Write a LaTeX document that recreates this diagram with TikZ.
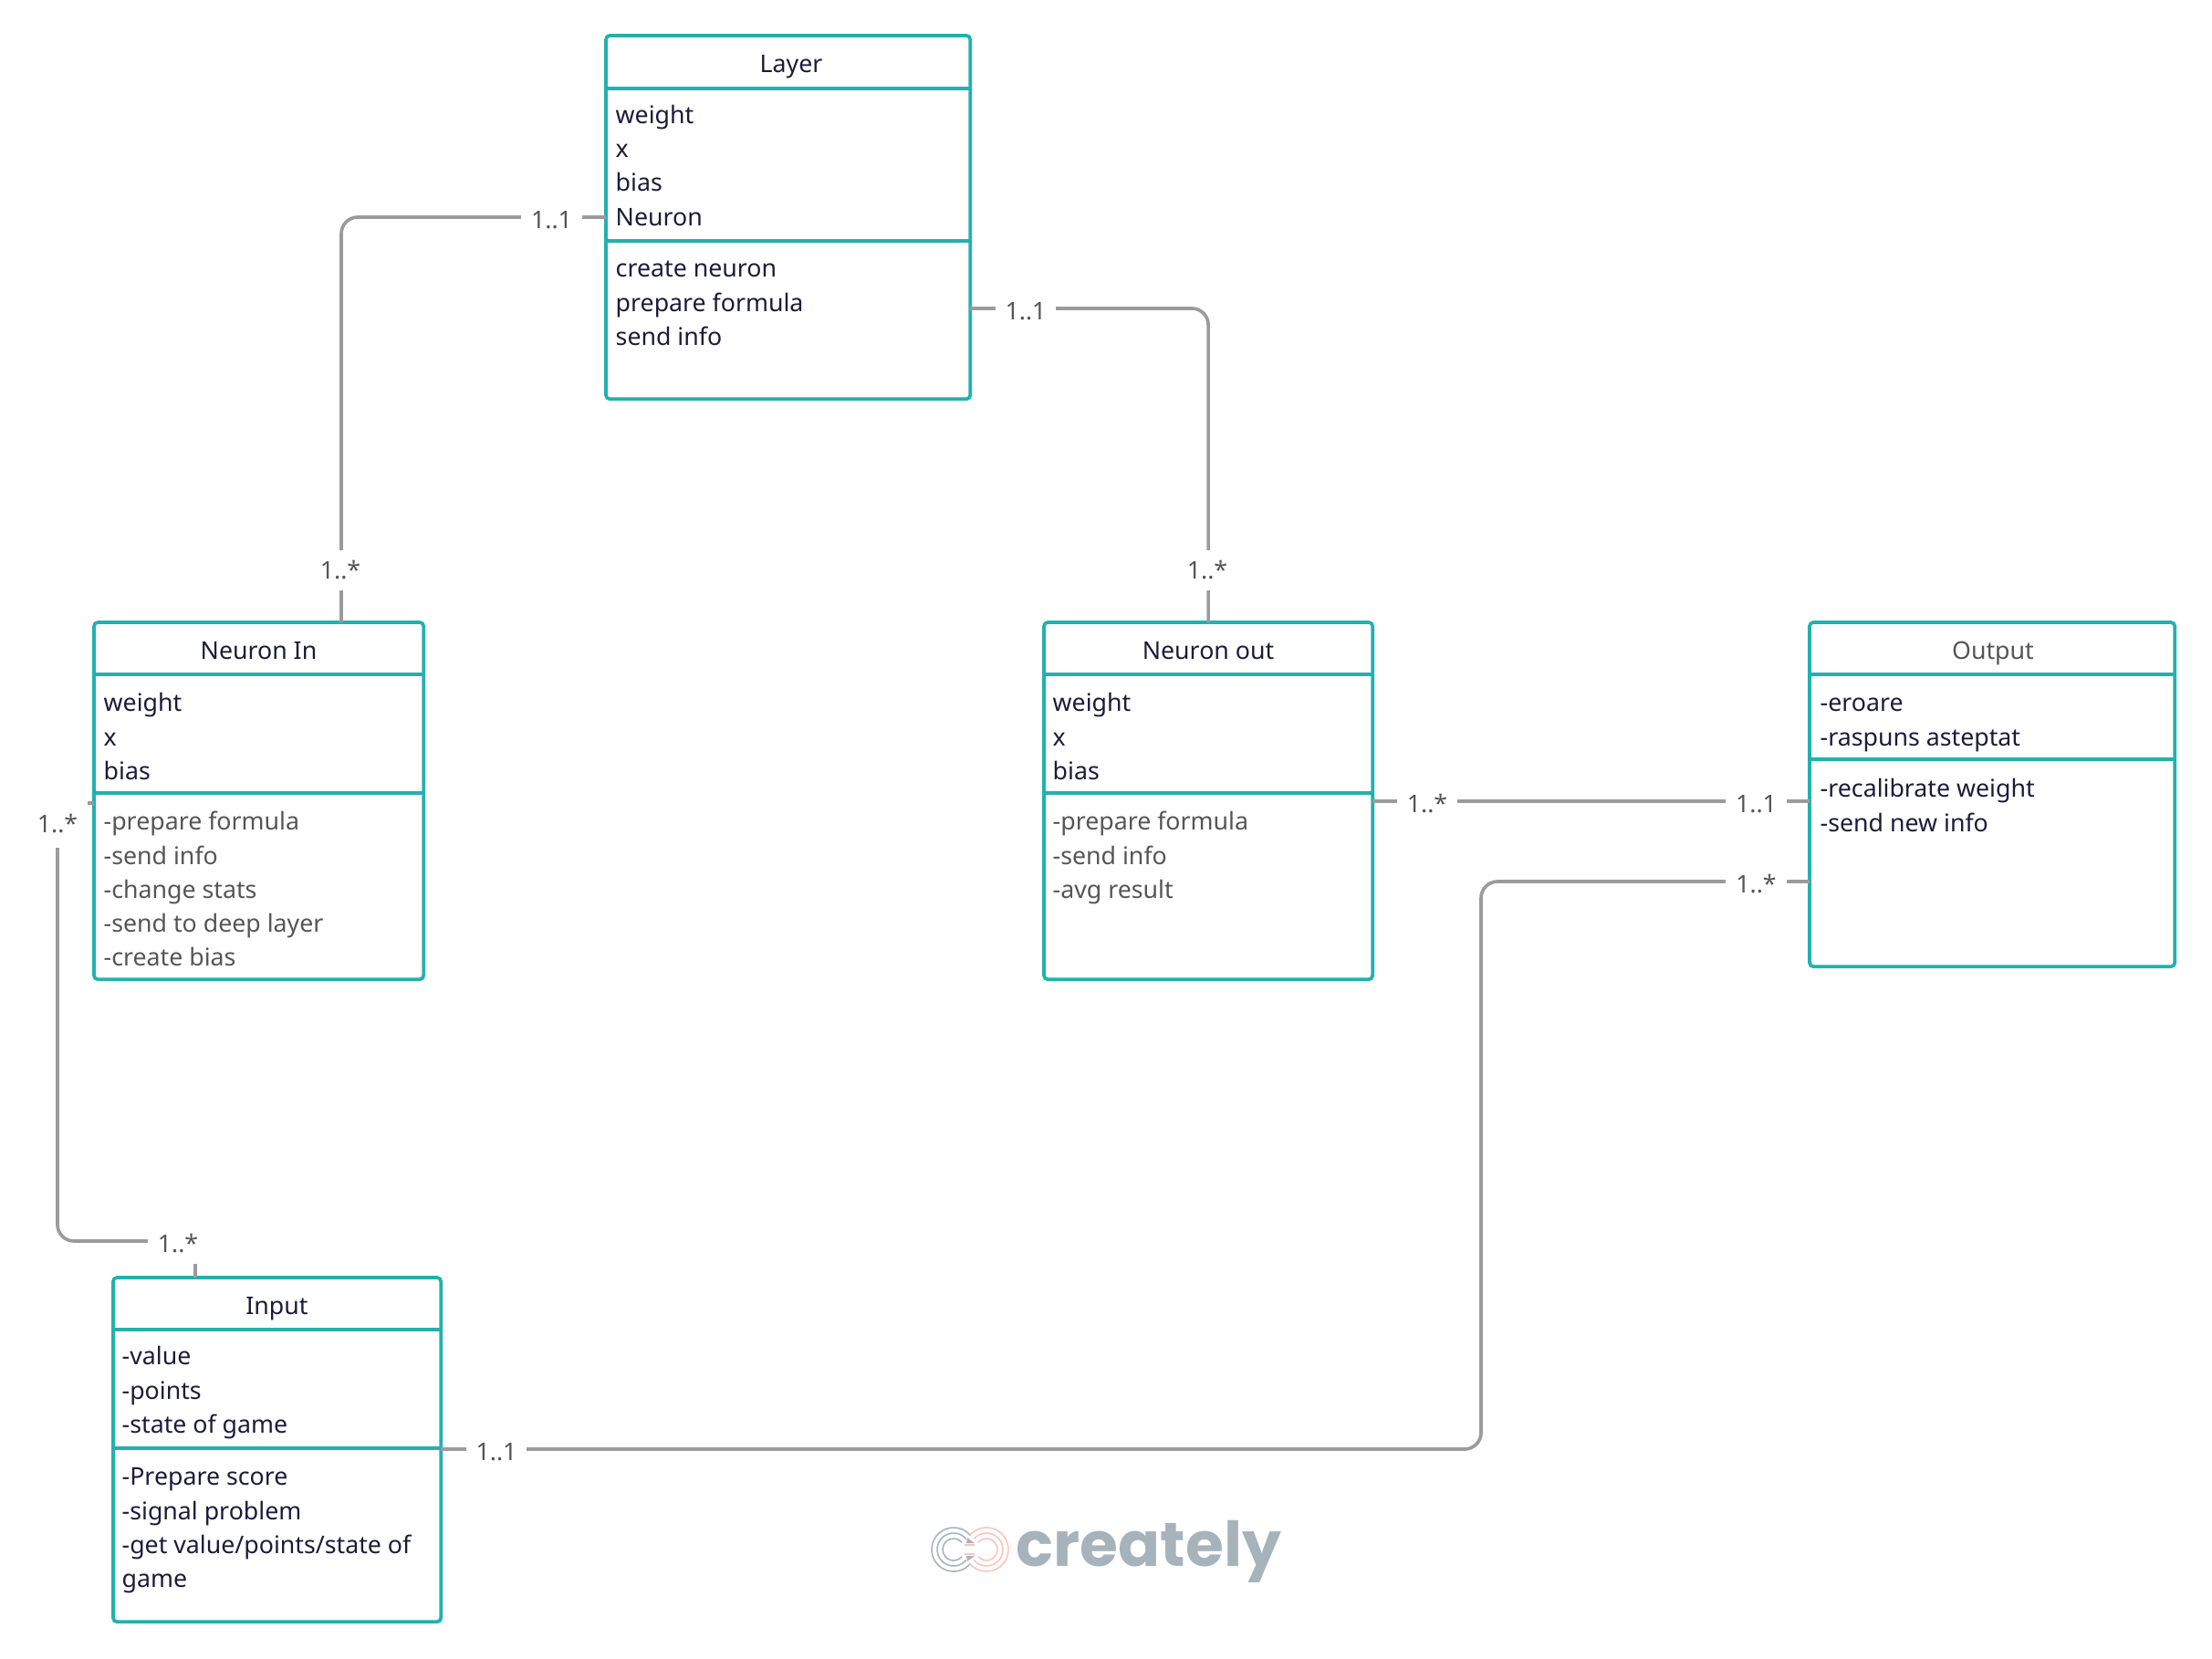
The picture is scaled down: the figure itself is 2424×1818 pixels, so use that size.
\documentclass[tikz,border=0pt]{standalone}
\usepackage{fontspec}
\setmainfont{Noto Sans}
\newfontfamily\logofont{Poppins}
\usepackage{xcolor}
\definecolor{boxteal}{HTML}{22B1AD}
\definecolor{linegrey}{HTML}{9B9B9B}
\definecolor{textnavy}{HTML}{1B1B3A}
\definecolor{textgrey}{HTML}{555555}
\definecolor{logogrey}{HTML}{A7B3BB}
\definecolor{logopink}{HTML}{F9C4BE}

\begin{document}
\begin{tikzpicture}[x=0.01cm,y=-0.01cm,
        classbox/.style={draw=boxteal,line width=1.05pt,rounded corners=1.2pt,anchor=north west,inner sep=0pt,outer sep=0pt},
        divider/.style={draw=boxteal,line width=1.05pt},
        classtitle/.style={anchor=base,inner sep=0pt,text=textnavy,font=\fontsize{7.6}{10.6}\selectfont},
        members/.style={anchor=north west,inner sep=0pt,align=left,text=textnavy,font=\fontsize{7.6}{10.6}\selectfont},
        assoc/.style={draw=linegrey,line width=1.05pt,rounded corners=0.18cm},
        multi/.style={fill=white,inner xsep=0.11cm,inner ysep=0pt,minimum height=0.44cm,text=textgrey,font=\fontsize{7.6}{10.6}\selectfont},
        logoring/.style={line width=0.45pt}]
        \useasboundingbox (0,0) rectangle (2424,1818);

        % Layer
        \node[classbox,minimum width=3.99cm,minimum height=3.98cm] (layerBox) at (664,39) {};
        \draw[divider] (layerBox.west |- 0,97) -- (layerBox.east |- 0,97);
        \draw[divider] (layerBox.west |- 0,264) -- (layerBox.east |- 0,264);
        \node[classtitle] (layerTitle) at (867,80) {Layer};
        \node[members] (layerAttrs) at (674,108.5) {\strut weight\\x\\bias\\Neuron};
        \node[members] (layerOps) at (674,277) {\strut create neuron\\prepare formula\\send info};

        % Neuron In
        \node[classbox,minimum width=3.61cm,minimum height=3.91cm] (inBox) at (103,682) {};
        \draw[divider] (inBox.west |- 0,739) -- (inBox.east |- 0,739);
        \draw[divider] (inBox.west |- 0,869) -- (inBox.east |- 0,869);
        \node[classtitle] (inTitle) at (283.5,722) {Neuron In};
        \node[members] (inAttrs) at (113,753) {\strut weight\\x\\bias};
        \node[members,text=textgrey] (inOps) at (113,883) {\strut -prepare formula\\-send info\\-change stats\\-send to deep layer\\-create bias};

        % Neuron out
        \node[classbox,minimum width=3.6cm,minimum height=3.91cm] (outBox) at (1144,682) {};
        \draw[divider] (outBox.west |- 0,739) -- (outBox.east |- 0,739);
        \draw[divider] (outBox.west |- 0,869) -- (outBox.east |- 0,869);
        \node[classtitle] (outTitle) at (1324,722) {Neuron out};
        \node[members] (outAttrs) at (1153,753) {\strut weight\\x\\bias};
        \node[members,text=textgrey] (outOps) at (1153,883) {\strut -prepare formula\\-send info\\-avg result};

        % Output
        \node[classbox,minimum width=4cm,minimum height=3.77cm] (outputBox) at (1983,682) {};
        \draw[divider] (outputBox.west |- 0,739) -- (outputBox.east |- 0,739);
        \draw[divider] (outputBox.west |- 0,832) -- (outputBox.east |- 0,832);
        \node[classtitle,text=textgrey] (outputTitle) at (2184,722) {Output};
        \node[members] (outputAttrs) at (1994,753) {\strut -eroare\\-raspuns asteptat};
        \node[members] (outputOps) at (1994,847) {\strut -recalibrate weight\\-send new info};

        % Input
        \node[classbox,minimum width=3.59cm,minimum height=3.77cm] (inputBox) at (124,1400) {};
        \draw[divider] (inputBox.west |- 0,1457) -- (inputBox.east |- 0,1457);
        \draw[divider] (inputBox.west |- 0,1587) -- (inputBox.east |- 0,1587);
        \node[classtitle] (inputTitle) at (303.5,1440) {Input};
        \node[members] (inputAttrs) at (133,1469) {\strut -value\\-points\\-state of game};
        \node[members] (inputOps) at (133,1601) {\strut -Prepare score\\-signal problem\\-get value/points/state of\\game};

        % Estremi dei collegamenti
        \coordinate (layerLeft) at (layerBox.west |- 0,238);
        \coordinate (layerRight) at (layerBox.east |- 0,338);
        \coordinate (inTop) at (374,0 |- inBox.north);
        \coordinate (inLeft) at (inBox.west |- 0,880);
        \coordinate (inBend) at (63,1360);
        \coordinate (outTop) at (outBox.north);
        \coordinate (outRight) at (outBox.east |- 0,878);
        \coordinate (outputLeft) at (outputBox.west |- 0,878);
        \coordinate (outputLow) at (outputBox.west |- 0,966);
        \coordinate (outputBend) at (1623,966);
        \coordinate (inputTop) at (214,0 |- inputBox.north);
        \coordinate (inputRight) at (inputBox.east |- 0,1588);

        % Collegamenti
        \draw[assoc] (layerLeft) -| (inTop);
        \draw[assoc] (layerRight) -| (outTop);
        \draw[assoc] (outRight) -- (outputLeft);
        \draw[assoc] (inLeft) -| (inBend) -| (inputTop);
        \draw[assoc] (inputRight) -| (outputBend) -- (outputLow);

        % Molteplicita
        \node[multi] (layerLeftLabel) at (604.5,241) {1..1};
        \node[multi] (layerRightLabel) at (1124,341) {1..1};
        \node[multi] (inTopLabel) at (373,625) {1..*};
        \node[multi] (outTopLabel) at (1323,625) {1..*};
        \node[multi,minimum height=0.52cm] (inLeftLabel) at (63,903) {1..*};
        \node[multi] (inputTopLabel) at (195,1363) {1..*};
        \node[multi] (inputRightLabel) at (544,1591) {1..1};
        \node[multi] (outRightLabel) at (1564,881) {1..*};
        \node[multi] (outputLeftLabel) at (1924.5,881) {1..1};
        \node[multi] (outputLowLabel) at (1924.5,969) {1..*};

        % Logo
        \draw[logoring,draw=logogrey] (1045,1698) ++(40:0.24cm) arc[start angle=40,end angle=320,radius=0.24cm];
        \draw[logoring,draw=logogrey] (1045,1698) ++(40:0.18cm) arc[start angle=40,end angle=320,radius=0.18cm];
        \draw[logoring,draw=logogrey] (1045,1698) ++(40:0.12cm) arc[start angle=40,end angle=320,radius=0.12cm];
        \draw[logoring,draw=logopink] (1081,1698) ++(-140:0.24cm) arc[start angle=-140,end angle=140,radius=0.24cm];
        \draw[logoring,draw=logopink] (1081,1698) ++(-140:0.18cm) arc[start angle=-140,end angle=140,radius=0.18cm];
        \draw[logoring,draw=logopink] (1081,1698) ++(-140:0.12cm) arc[start angle=-140,end angle=140,radius=0.12cm];
        \draw[logoring,draw=logopink] (1057,1693) -- (1068,1693);
        \draw[logoring,draw=logopink] (1057,1703) -- (1068,1703);
        \fill[logogrey] (1060,1685) -- (1068,1691) -- (1059,1691) -- cycle;
        \fill[logogrey] (1060,1711) -- (1068,1705) -- (1059,1705) -- cycle;
        \node[anchor=base west,inner sep=0pt,text=logogrey,font=\logofont\bfseries\fontsize{19.3}{20}\selectfont] (logoText) at (1113,1716) {creately};
\end{tikzpicture}
\end{document}
